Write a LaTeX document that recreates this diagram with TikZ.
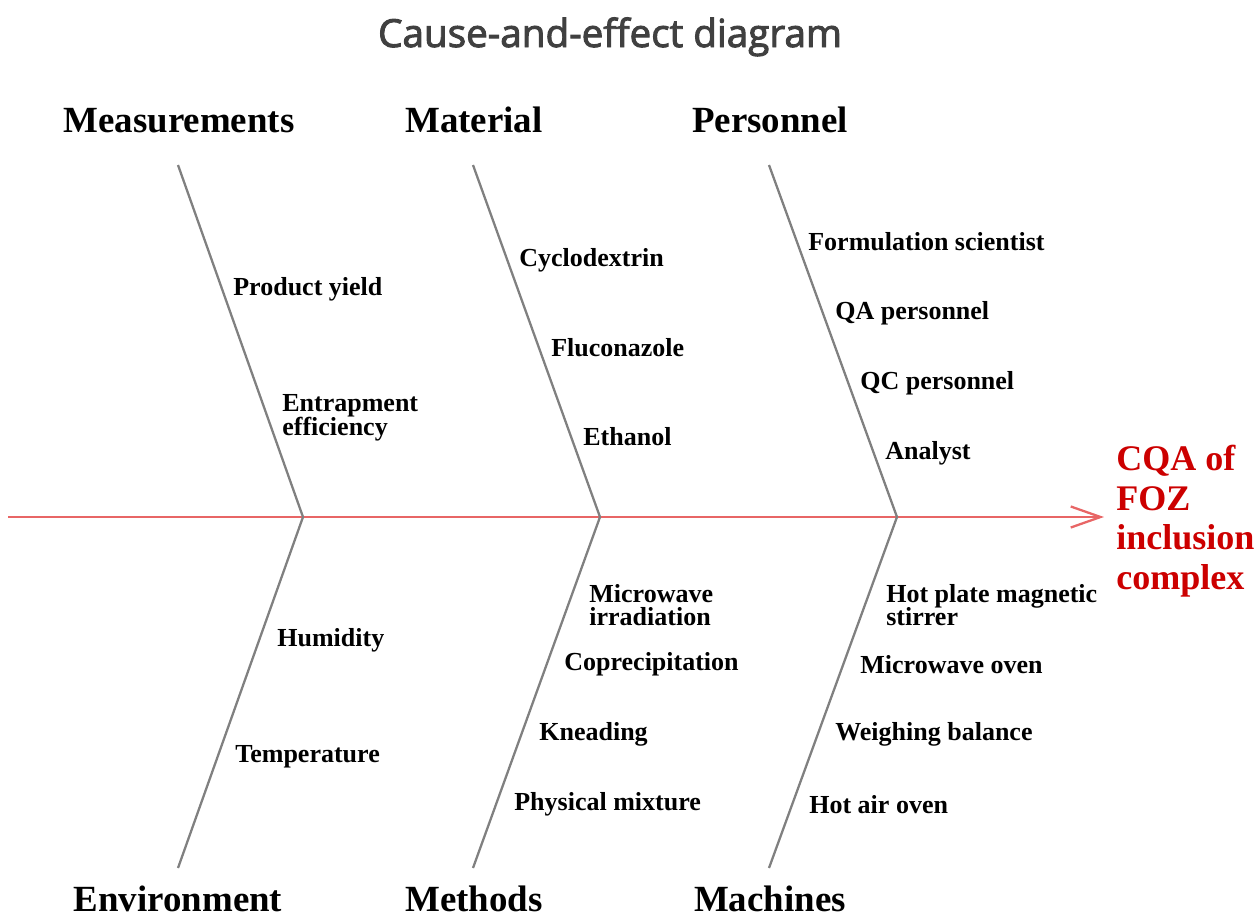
\documentclass[tikz,border=0pt]{standalone}
\usepackage{fontspec}
\setmainfont{Liberation Serif}
\newfontfamily\titlefont[FakeBold=2.5]{Open Sans}
\usetikzlibrary{arrows.meta, positioning}

\definecolor{spinered}{RGB}{232,102,102}
\definecolor{bonegray}{RGB}{128,128,128}
\definecolor{effectred}{RGB}{204,0,0}
\definecolor{titlegray}{RGB}{64,64,64}

\begin{document}
\begin{tikzpicture}[
    x=0.02cm, y=-0.02cm,
    category/.style={font=\fontsize{21}{25}\selectfont\bfseries, inner sep=0pt, anchor=base},
    cause/.style={font=\fontsize{14.8}{13.6}\selectfont\bfseries, anchor=west, align=left, inner sep=0pt, yshift=-1.2pt},
    bone/.style={draw=bonegray, line width=1.3pt, line join=miter},
    spine/.style={draw=spinered, line width=1.6pt, -{Straight Barb[length=17pt, width=12pt, line width=1.3pt]}}
]
    \useasboundingbox (0,0) rectangle (1259,917);

    \node[font=\titlefont\fontsize{22}{26}\selectfont, text=titlegray, anchor=base] (title) at (610,47) {Cause-and-effect diagram};

    % main spine and effect
    \coordinate (tail) at (8,517);
    \coordinate (head) at (1104,517);
    \draw[spine] (tail) -- (head);
    \node[font=\fontsize{20.5}{22.5}\selectfont\bfseries, text=effectred, align=left, anchor=west, inner sep=0pt] (effect) at (1116,521) {CQA of\\FOZ\\inclusion\\complex};

    % bones
    \coordinate (b1t) at (178,165); \coordinate (b1j) at (303,517); \coordinate (b1b) at (178,868);
    \coordinate (b2t) at (473,165); \coordinate (b2j) at (600,517); \coordinate (b2b) at (473,868);
    \coordinate (b3t) at (769,165); \coordinate (b3j) at (897,517); \coordinate (b3b) at (769,868);
    \draw[bone] (b1t) -- (b1j) -- (b1b);
    \draw[bone] (b2t) -- (b2j) -- (b2b);
    \draw[bone] (b3t) -- (b3j) -- (b3b);

    % categories
    \node[category] (meas) at (179,132) {Measurements};
    \node[category] (mat) at (474,132) {Material};
    \node[category] (pers) at (770,132) {Personnel};
    \node[category] (env) at (178,911) {Environment};
    \node[category] (meth) at (474,911) {Methods};
    \node[category] (mach) at (770,911) {Machines};

    % causes
    \node[cause] (yield) at (233,287) {Product yield};
    \node[cause] (entrap) at (282,416) {Entrapment\\efficiency};

    \node[cause] (cyclo) at (519,258) {Cyclodextrin};
    \node[cause] (fluco) at (551,346) {Fluconazole};
    \node[cause] (ethanol) at (583,434) {Ethanol};

    \node[cause] (formsci) at (808,240) {Formulation scientist};
    \node[cause] (qa) at (835,311) {QA personnel};
    \node[cause] (qc) at (860,381) {QC personnel};
    \node[cause] (analyst) at (885,451) {Analyst};

    \node[cause] (humid) at (277,638) {Humidity};
    \node[cause] (temp) at (235,755) {Temperature};

    \node[cause] (micro) at (589,603) {Microwave\\irradiation};
    \node[cause] (copre) at (564,662) {Coprecipitation};
    \node[cause] (knead) at (539,732) {Kneading};
    \node[cause] (physmix) at (514,802) {Physical mixture};

    \node[cause] (hotplate) at (886,603) {Hot plate magnetic\\stirrer};
    \node[cause] (mwoven) at (860,662) {Microwave oven};
    \node[cause] (balance) at (835,732) {Weighing balance};
    \node[cause] (airoven) at (809,802) {Hot air oven};
\end{tikzpicture}
\end{document}
